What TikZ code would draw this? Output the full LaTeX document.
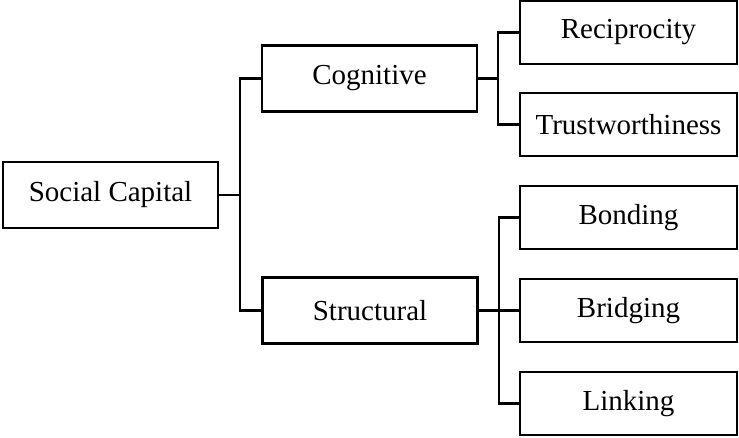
\documentclass[tikz,border=0pt]{standalone}
\usepackage{fontspec}
\setmainfont{Liberation Serif}
\begin{document}
\begin{tikzpicture}[x=1pt,y=-1pt,
  box/.style={draw, line width=2.8pt, rectangle, inner sep=0pt, outer sep=0pt,
    minimum width=215pt, minimum height=66pt,
    font=\fontsize{29}{34}\selectfont},
  leafbox/.style={box, minimum width=217pt, minimum height=63pt},
  link/.style={line width=2.8pt}]
\useasboundingbox (0,0) rectangle (739,437);

% root and first level
\node[box] (sc)  at (110.5,195)  {Social Capital};
\node[box] (cog) at (369.5,78.5) {Cognitive};
\node[box] (str) at (370,310.5)  {Structural};

% second level
\node[leafbox] (rec) at (628.5,32.5)  {Reciprocity};
\node[leafbox] (tru) at (628.5,124.5) {Trustworthiness};
\node[leafbox] (bon) at (628.5,217.5) {Bonding};
\node[leafbox] (bri) at (628.5,310.5) {Bridging};
\node[leafbox] (lin) at (628.5,403.5) {Linking};

% bracket junctions
\coordinate (j1) at (240,195);
\coordinate (j2) at (498,78.5);
\coordinate (j3) at (499,310.5);

% connectors
\draw[link] (sc.east) -- (j1);
\draw[link] (cog.west) -| (j1) |- (str.west);
\draw[link] (cog.east) -- (j2);
\draw[link] (rec.west) -| (j2) |- (tru.west);
\draw[link] (str.east) -- (bri.west);
\draw[link] (bon.west) -| (j3) |- (lin.west);
\end{tikzpicture}
\end{document}
